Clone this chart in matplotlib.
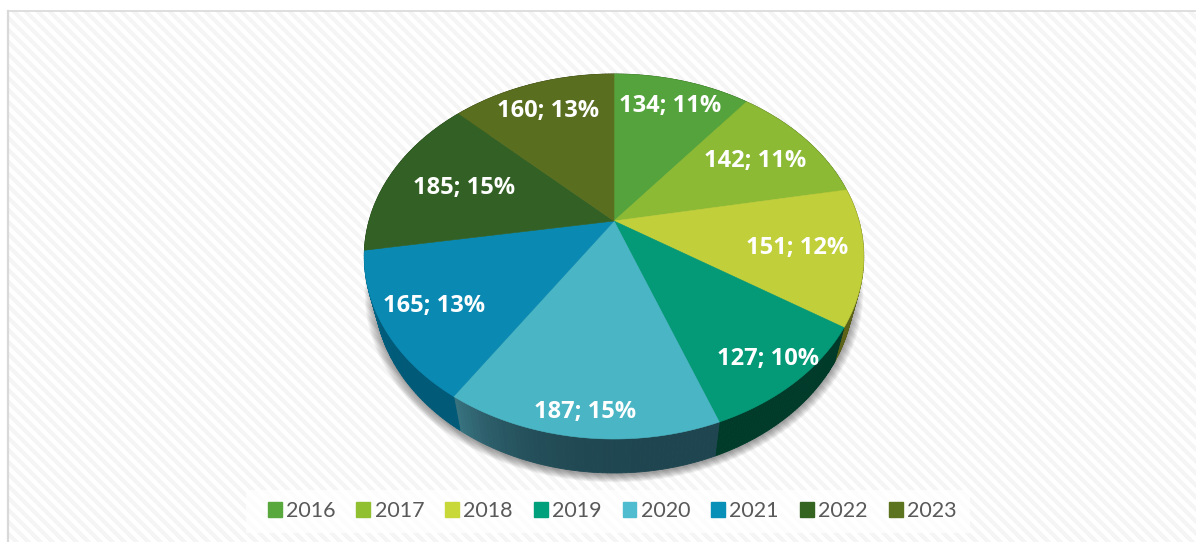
import numpy as np
import matplotlib
matplotlib.use('Agg')
import matplotlib.pyplot as plt
from matplotlib.patches import Patch, Rectangle

years = ['2016', '2017', '2018', '2019', '2020', '2021', '2022', '2023']
values = [134, 142, 151, 127, 187, 165, 185, 160]
percents = [11, 11, 12, 10, 15, 13, 15, 13]
colors = ['#55a33c', '#8cba35', '#c0cf3a', '#049977', '#4ab5c4', '#0a89b3', '#336125', '#5a6e1f']
legend_colors = ['#58a83d', '#90c030', '#c8d838', '#00a07c', '#50bcd0', '#0890b8', '#346420', '#5c7420']
# side wall colours at the start and end of each slice (clockwise)
side_start = ['#2c5a1e', '#465d1a', '#5c6319', '#003b2a', '#1f4650', '#005a78', '#1f3d17', '#2e3810']
side_end = ['#2c5a1e', '#465d1a', '#5c6319', '#003b2a', '#37727f', '#0a6f94', '#1f3d17', '#2e3810']
# how far out along the slice each label sits
label_r = [0.80, 0.72, 0.74, 0.87, 0.90, 0.80, 0.665, 0.78]

# perspective pie, pixels
CX, CY = 614, 221
A, B, K = 245, 175.6, 0.1945
DEPTH = 34
SHRINK = 0.96


def project(theta, r=1.0):
    # theta clockwise from the top, in degrees
    t = np.radians(theta)
    u, v = r * np.sin(t), r * np.cos(t)
    w = 1 + K * v
    return CX + A * u / w, CY - B * v / w


def lower(x, y):
    return CX + (x - CX) * SHRINK, y + DEPTH


def mix(c1, c2, f):
    a, b = np.array(matplotlib.colors.to_rgb(c1)), np.array(matplotlib.colors.to_rgb(c2))
    return a + (b - a) * f


fig = plt.figure(figsize=(11.96, 5.42), dpi=100)
ax = fig.add_axes([0, 0, 1, 1])
ax.set_xlim(0, 1196)
ax.set_ylim(542, 0)
ax.axis('off')

# striped backdrop
yy, xx = np.mgrid[0:542, 0:1196]
bg = 1 - 0.04 * (((xx - yy) % 12) < 6)
bg = np.where((xx < 9) | (yy < 11), 1.0, bg)
ax.imshow(bg, cmap='gray', vmin=0, vmax=1, extent=(0, 1196, 542, 0), aspect='auto',
          interpolation='bilinear', zorder=0)
ax.plot([8, 8], [11, 542], color='#d9d9d9', lw=1.6, zorder=1)
ax.plot([8, 1196], [11, 11], color='#d9d9d9', lw=1.2, zorder=1)

bounds = np.cumsum([0] + values) / sum(values) * 360

# soft shadow below the pie
ring = np.linspace(0, 360, 361)
rx, ry = project(ring)
lx, ly = lower(rx, ry)
for grow in np.linspace(1.04, 1.0, 10):
    ax.fill(CX + (lx - CX) * grow, 290 + (ly - 290) * grow + 2, color='black', alpha=0.045, lw=0, zorder=2)

# side wall
for i in range(len(values)):
    steps = np.linspace(bounds[i], bounds[i + 1], 60)
    for j in range(len(steps) - 1):
        x0, y0 = project(steps[j])
        x1, y1 = project(steps[j + 1])
        x2, y2 = lower(x1, y1)
        x3, y3 = lower(x0, y0)
        c = mix(side_start[i], side_end[i], (j / 58) ** 4)
        ax.fill([x0, x1, x2, x3], [y0, y1, y2, y3], color=c, lw=0.6, zorder=3)

# top face
for i in range(len(values)):
    x, y = project(np.linspace(bounds[i], bounds[i + 1], 80))
    ax.fill(np.r_[CX, x], np.r_[CY, y], color=colors[i], lw=0.4, zorder=4)

# labels
for i in range(len(values)):
    mid = (bounds[i] + bounds[i + 1]) / 2
    x, y = project(mid, label_r[i])
    ax.text(x, y + 1, f'{values[i]}; {percents[i]}%', color='white', fontsize=17, fontweight='bold',
            family='Open Sans', ha='center', va='center', zorder=5)

# legend band
ax.add_patch(Rectangle((246, 490), 724, 43, facecolor='white', edgecolor='none', alpha=0.8, zorder=5))
handles = [Patch(color=c, label=y) for c, y in zip(legend_colors, years)]
leg = ax.legend(handles=handles, ncol=8, loc='center', bbox_to_anchor=(612, 511),
                bbox_transform=ax.transData, frameon=False, handlelength=0.65, handleheight=0.65,
                handletextpad=0.2, columnspacing=0.97, borderpad=0.4, borderaxespad=0,
                labelcolor='#595959', prop={'family': 'Lato', 'size': 15.5})
leg.set_zorder(6)

plt.savefig('out.png', dpi=100)
